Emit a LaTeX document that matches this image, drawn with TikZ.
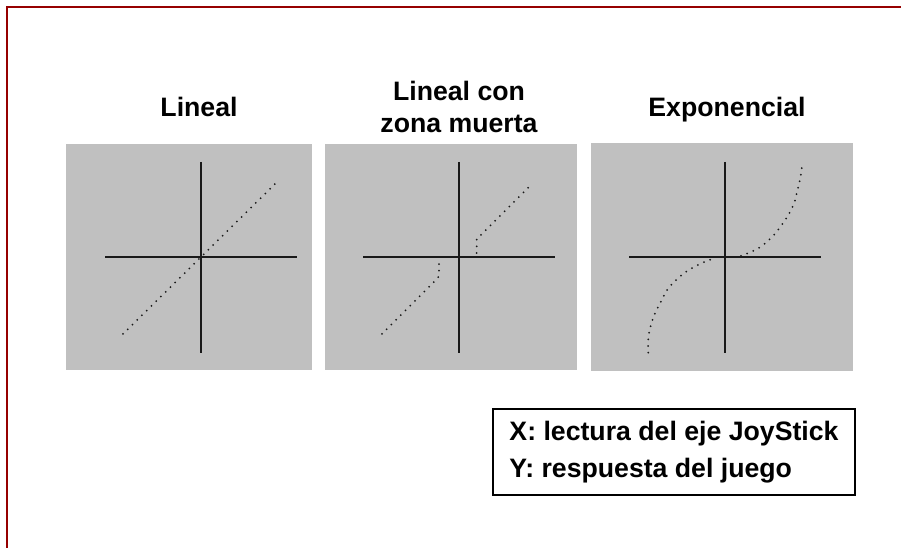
\documentclass[tikz,border=0pt]{standalone}
\usepackage{fontspec}
\setmainfont{Liberation Sans}
\definecolor{marco}{RGB}{150,0,0}
\definecolor{fondo}{RGB}{192,192,192}
\definecolor{trazo}{RGB}{25,25,25}

\tikzset{
  titulo/.style={anchor=base, align=center, font=\bfseries\fontsize{20}{24}\selectfont},
  eje/.style={trazo, line width=1.5pt},
  curva/.style={trazo, line width=1.5pt, line cap=round, dash pattern=on 0pt off 5pt},
  leyenda/.style={draw, line width=1.1pt, minimum width=271.5pt, minimum height=64.5pt,
    align=left, font=\bfseries\fontsize{20}{27.75}\selectfont}
}

\begin{document}
\begin{tikzpicture}[x=0.75pt,y=-0.75pt]
    \useasboundingbox (0,0) rectangle (901,548);
    \draw[marco, line width=2pt] (7,548) -- (7,7) -- (901,7);

    % paneles
    \fill[fondo] (66,144) rectangle (312,370);
    \fill[fondo] (325,144) rectangle (577,370);
    \fill[fondo] (591,143) rectangle (853,371);
    \foreach \cx in {201,459,725} {
      \draw[eje] (\cx-96,257) -- (\cx+96,257);
      \draw[eje] (\cx,162) -- (\cx,353);
    }

    % curvas
    \draw[curva] (123,334) -- (276,183);
    \draw[curva] (382,334) -- (436.7,279.3) -- (439,276) -- (439,258);
    \draw[curva] (476.7,253) -- (476.7,239) -- (482,234) -- (531.7,184.3);
    \draw[curva] plot[smooth] coordinates {(648.3,352.7) (648.3,340) (650,328.3)
      (655,313.3) (661,301.7) (668.3,288.3) (681.7,275) (692.7,267.7)
      (705,261.7) (713.3,258.7)};
    \draw[curva] plot[smooth] coordinates {(741,256) (750,252.3) (760,247.3)
      (771.7,237.3) (781,226) (788.3,215) (794.3,202.7) (797.7,189)
      (800,180) (802.3,164)};

    \node[titulo] (lineal) at (199,117) {Lineal};
    \node[titulo] (zona) at (459,133) {Lineal con\\zona muerta};
    \node[titulo] (expo) at (727,117) {Exponencial};

    \node[leyenda] (ley) at (674,452) {X: lectura del eje JoyStick\\Y: respuesta del juego};
  \end{tikzpicture}
\end{document}
